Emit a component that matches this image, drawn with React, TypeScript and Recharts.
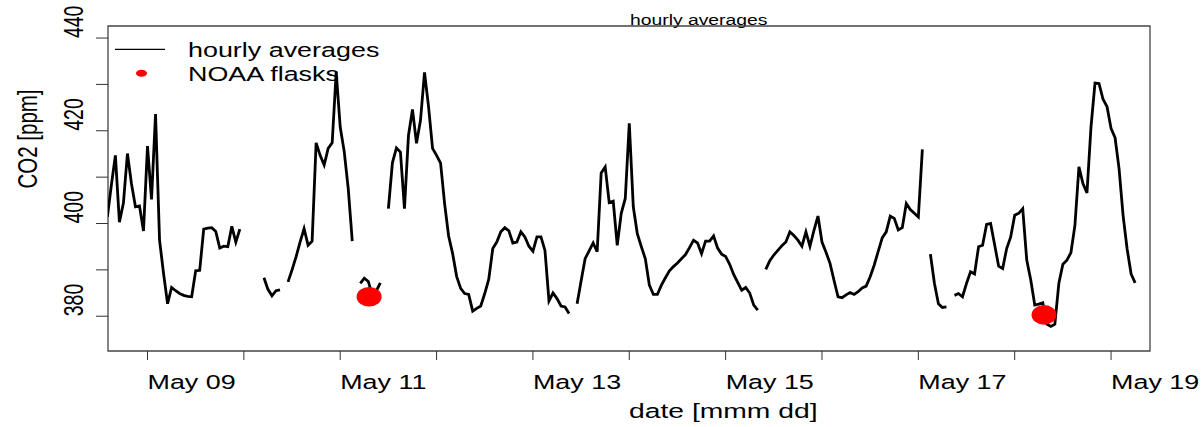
import React from 'react';
import {
  ComposedChart, Line, Scatter, XAxis, YAxis, ReferenceArea, Customized,
} from 'recharts';

// hourly CO2 averages, one value per hour starting at FIRST_HOUR (hours since May 08 00:00)
// null = no data for that hour (line breaks)
const FIRST_HOUR = 14;
const co2Hourly: (number | null)[] = [
  401.4, 408.3, 414.7, 400.3, 404.4, 415.1, 408.6, 403.6, 403.8, 398.4,
  416.7, 405.2, 423.6, 396.4, 389.2, 382.7, 386.2, 385.5, 384.9, 384.5,
  384.3, 384.2, 389.8, 389.9, 398.8, 399.0, 399.1, 398.3, 394.7, 395.1,
  395.0, 399.4, 396.0, 398.8, null, null, null, null, null, 388.3,
  385.8, 384.4, 385.5, 385.7, null, 387.4, 390.0, 392.8, 396.0, 398.9,
  395.3, 396.2, 417.4, 414.7, 412.6, 416.2, 417.4, 432.7, 420.8, 415.5,
  407.5, 396.2, null, 387.1, 388.2, 387.5, 384.5, 385.5, 387.2, null,
  403.2, 413.1, 416.3, 415.4, 403.2, 419.0, 424.6, 417.3, 422.3, 432.6,
  425.2, 416.2, 414.7, 413.0, 404.3, 397.3, 393.5, 388.6, 386.0, 384.9,
  384.7, 381.1, 381.7, 382.2, 384.9, 388.0, 394.6, 396.0, 398.2, 399.1,
  398.4, 395.8, 396.0, 398.2, 397.1, 395.1, 394.0, 397.1, 397.1, 394.2,
  383.3, 385.0, 383.8, 382.2, 382.0, 380.6, null, 382.7, 387.6, 392.4,
  394.1, 395.8, 393.9, 410.9, 412.2, 404.5, 404.8, 395.3, 402.2, 405.4,
  421.6, 403.6, 397.8, 395.0, 392.4, 386.7, 384.7, 384.7, 386.7, 388.3,
  389.8, 390.7, 391.5, 392.4, 393.3, 394.8, 396.4, 395.8, 393.5, 396.2,
  396.2, 397.3, 394.7, 393.4, 392.9, 391.2, 389.0, 387.3, 385.6, 386.2,
  385.0, 382.4, 381.3, null, 390.1, 392.0, 393.2, 394.2, 395.2, 396.0,
  398.2, 397.4, 396.4, 395.1, 398.2, 395.1, 398.5, 401.6, 396.0, 393.8,
  391.4, 387.7, 384.2, 384.0, 384.6, 385.1, 384.7, 385.3, 386.1, 386.5,
  388.5, 391.0, 394.0, 396.9, 398.2, 401.6, 401.1, 398.6, 399.1, 404.3,
  403.0, 402.2, 401.4, 416.0, null, 393.4, 387.1, 382.7, 381.9, 382.0,
  null, 384.5, 384.9, 384.2, 387.1, 389.6, 389.1, 395.0, 395.3, 399.8,
  400.0, 395.4, 390.8, 390.3, 394.6, 397.1, 401.8, 402.2, 403.2, 392.1,
  387.8, 382.4, 382.6, 382.9, 378.3, 377.8, 378.3, 387.1, 391.2, 392.1,
  393.7, 399.6, 412.2, 408.6, 406.6, 420.8, 430.3, 430.2, 426.8, 425.2,
  420.5, 418.5, 411.8, 401.7, 394.5, 389.1, 387.2,
];

// NOAA flask samples
const flaskHours = [79.2, 247.3];
const flaskCo2 = [384.2, 380.3];

const xTicks = [24, 48, 72, 96, 120, 144, 168, 192, 216, 240, 264];
const yTicks = [380, 390, 400, 410, 420, 430, 440];

const X_DOMAIN: [number, number] = [14.16, 273.7];
const Y_DOMAIN: [number, number] = [372.5, 442.6];

const FONT = '"Liberation Sans", Arial, sans-serif';
const SX = 1.38; // the original picture is stretched horizontally

const lineData = co2Hourly.map((v, i) => ({ h: FIRST_HOUR + i, co2: v }));
const flaskData = flaskHours.map((h, i) => ({ h, co2: flaskCo2[i] }));

const SText = ({ x, y, size, rot, children }: any) => (
  <text
    transform={`translate(${x},${y}) scale(${SX},1)${rot ? ' rotate(-90)' : ''}`}
    fontSize={size}
    fontFamily={FONT}
    fill="#000"
    textAnchor="start"
  >
    {children}
  </text>
);

const XTick = ({ x, payload }: any) => {
  const day = 8 + payload.value / 24;
  if (day % 2 === 0) return <g />;
  return <SText x={x} y={389} size={19.5}>{`May ${String(day).padStart(2, '0')}`}</SText>;
};

const YTick = ({ y, payload }: any) => {
  if (payload.value % 20 !== 0) return <g />;
  return <SText x={83} y={y} size={19.5} rot>{payload.value}</SText>;
};

const Decorations = () => (
  <g>
    <SText x={630} y={25} size={14}>hourly averages</SText>
    <SText x={629} y={418} size={20.5}>date [mmm dd]</SText>
    <SText x={37} y={188.5} size={20.5} rot>CO2 [ppm]</SText>
    {/* legend */}
    <line x1={115} x2={165} y1={49.3} y2={49.3} stroke="#000" strokeWidth={1.3} />
    <ellipse cx={141.5} cy={73.3} rx={5.5} ry={3.5} fill="#ff0000" />
    <SText x={188} y={57.3} size={19.5}>hourly averages</SText>
    <SText x={188} y={80.7} size={19.5}>NOAA flasks</SText>
  </g>
);

const FlaskDot = ({ cx, cy }: any) => (
  <ellipse cx={cx} cy={cy} rx={12.5} ry={9.8} fill="#ff0000" />
);

export default function App() {
  return (
    <div style={{ position: 'absolute', left: 0, top: 0, width: 1201, height: 427, background: '#fff' }}>
      <ComposedChart
        width={1201}
        height={427}
        margin={{ top: 26, right: 51, bottom: 0, left: 0 }}
      >
        <XAxis
          dataKey="h"
          type="number"
          domain={X_DOMAIN}
          allowDataOverflow
          ticks={xTicks}
          interval={0}
          height={76}
          axisLine={false}
          tickSize={9}
          tickMargin={0}
          tickLine={{ stroke: '#333', strokeWidth: 1 }}
          tick={<XTick />}
        />
        <YAxis
          dataKey="co2"
          type="number"
          domain={Y_DOMAIN}
          allowDataOverflow
          ticks={yTicks}
          interval={0}
          width={108}
          axisLine={false}
          tickSize={12}
          tickMargin={0}
          tickLine={{ stroke: '#333', strokeWidth: 1 }}
          tick={<YTick />}
        />
        <ReferenceArea
          x1={X_DOMAIN[0]}
          x2={X_DOMAIN[1]}
          y1={Y_DOMAIN[0]}
          y2={Y_DOMAIN[1]}
          fill="none"
          stroke="#444"
          strokeWidth={1.3}
        />
        <Line
          data={lineData}
          dataKey="co2"
          type="linear"
          stroke="#000"
          strokeWidth={2.8}
          dot={false}
          activeDot={false}
          connectNulls={false}
          isAnimationActive={false}
        />
        <Scatter
          data={flaskData}
          dataKey="co2"
          shape={<FlaskDot />}
          isAnimationActive={false}
        />
        <Customized component={<Decorations />} />
      </ComposedChart>
    </div>
  );
}
